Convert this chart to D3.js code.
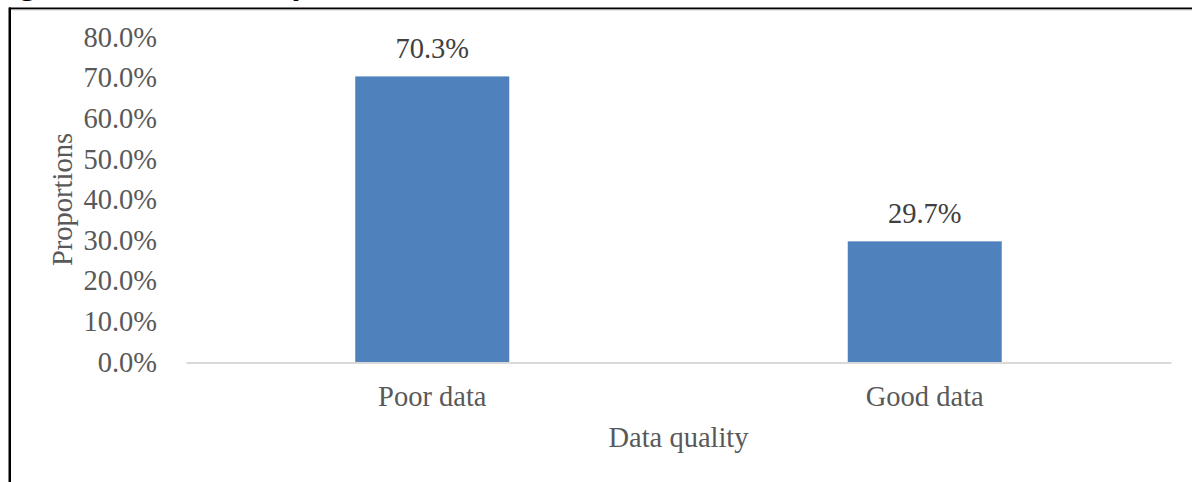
<!DOCTYPE html>
<html>
<head>
<meta charset="utf-8">
<script src="https://cdn.jsdelivr.net/npm/d3@7"></script>
<style>
  body { margin: 0; background: #fff; }
  svg { display: block; font-family: "Liberation Serif", "Times New Roman", serif; }
</style>
</head>
<body>
<div class="chart"></div>
<script>
let categories = ['Poor data', 'Good data'];
let proportions = [0.703, 0.297];
let yTicks = [0, 0.1, 0.2, 0.3, 0.4, 0.5, 0.6, 0.7, 0.8];
let titleText = 'Figure 4: Data Quality';
let xTitle = 'Data quality';
let yTitle = 'Proportions';

let w = 1192, h = 482;
let plotLeft = 186, plotRight = 1171, plotTop = 37, plotBottom = 362;
let fontSize = 28.5;
let svg = d3.select('.chart').append('svg').attr('width', w).attr('height', h);

svg.append('rect').attr('width', w).attr('height', h).attr('fill', '#fff');

/* ==== FRAME (cut-off document box + title) ==== */

// title line sits above the crop, only its descenders show
svg.append('text')
    .text(titleText)
    .attr('x', -10)
    .attr('y', -6)
    .attr('font-size', 33)
    .attr('font-weight', 'bold')
    .attr('fill', '#000');

svg.append('line')
    .attr('x1', 9).attr('x2', w)
    .attr('y1', 8.5).attr('y2', 8.5)
    .attr('stroke', '#000').attr('stroke-width', 2);

svg.append('line')
    .attr('x1', 11).attr('x2', w)
    .attr('y1', 10).attr('y2', 10)
    .attr('stroke', '#cfcfcf').attr('stroke-width', 1);

svg.append('line')
    .attr('x1', 9.75).attr('x2', 9.75)
    .attr('y1', 7.5).attr('y2', h)
    .attr('stroke', '#000').attr('stroke-width', 2.5);

/* ==== SCALES ==== */

let xScale = d3.scaleBand()
    .domain(categories)
    .range([plotLeft, plotRight])
    .paddingInner(0.6873)
    .paddingOuter(0.34365);

let yScale = d3.scaleLinear()
    .domain([0, 0.8])
    .range([plotBottom, plotTop]);

/* ==== AXES ==== */

let yAxis = d3.axisLeft(yScale)
    .tickValues(yTicks)
    .tickSize(0)
    .tickPadding(29)
    .tickFormat(d3.format('.1%'));

let yG = svg.append('g')
    .attr('transform', 'translate(' + plotLeft + ',0)')
    .call(yAxis);
yG.select('.domain').remove();
yG.selectAll('text')
    .attr('font-family', '"Liberation Serif", "Times New Roman", serif')
    .attr('font-size', fontSize)
    .attr('fill', '#595959');

let xAxis = d3.axisBottom(xScale)
    .tickSize(0)
    .tickSizeOuter(0)
    .tickPadding(23);

let xG = svg.append('g')
    .attr('transform', 'translate(0,' + (plotBottom + 0.5) + ')')
    .call(xAxis);
xG.select('.domain')
    .attr('stroke', '#d9d9d9')
    .attr('stroke-width', 2);
xG.selectAll('text')
    .attr('font-family', '"Liberation Serif", "Times New Roman", serif')
    .attr('font-size', fontSize)
    .attr('fill', '#595959');

/* ==== BARS ==== */

svg.selectAll('.bar')
    .data(proportions)
    .enter()
    .append('rect')
    .attr('class', 'bar')
    .attr('x', function (d, i) { return xScale(categories[i]); })
    .attr('y', function (d) { return yScale(d); })
    .attr('width', xScale.bandwidth())
    .attr('height', function (d) { return plotBottom - yScale(d); })
    .attr('fill', '#4f81bd');

svg.selectAll('.value')
    .data(proportions)
    .enter()
    .append('text')
    .attr('class', 'value')
    .text(function (d) { return d3.format('.1%')(d); })
    .attr('x', function (d, i) { return xScale(categories[i]) + xScale.bandwidth() / 2; })
    .attr('y', function (d) { return yScale(d) - 18; })
    .attr('text-anchor', 'middle')
    .attr('font-size', fontSize)
    .attr('fill', '#404040');

/* ==== AXIS TITLES ==== */

svg.append('text')
    .text(xTitle)
    .attr('x', (plotLeft + plotRight) / 2)
    .attr('y', 447)
    .attr('text-anchor', 'middle')
    .attr('font-size', fontSize)
    .attr('fill', '#595959');

svg.append('text')
    .text(yTitle)
    .attr('transform', 'translate(72,' + (plotTop + plotBottom) / 2 + ') rotate(-90)')
    .attr('text-anchor', 'middle')
    .attr('font-size', fontSize)
    .attr('fill', '#595959');
</script>
</body>
</html>
